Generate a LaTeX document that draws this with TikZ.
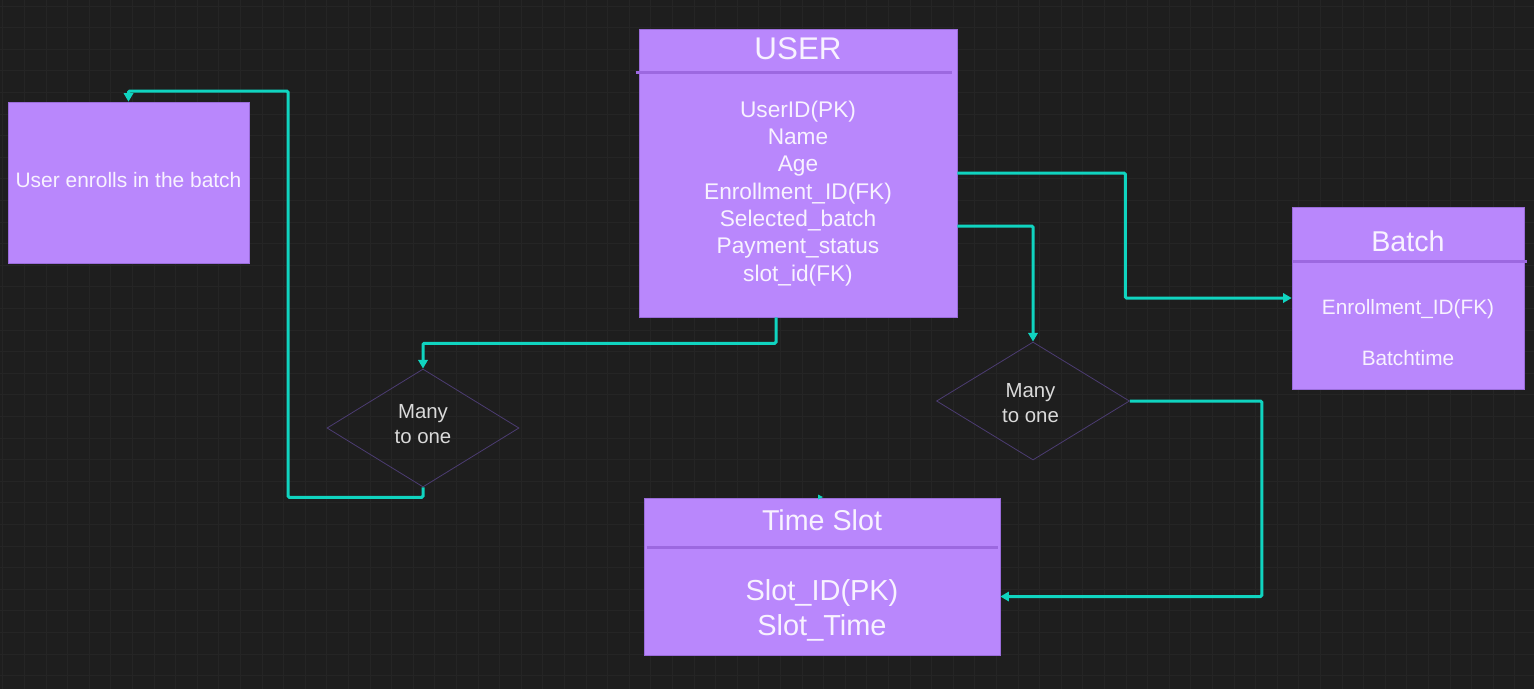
\documentclass[tikz,border=0pt]{standalone}
\usepackage{fontspec}
\setmainfont{Liberation Sans}
\usetikzlibrary{arrows.meta,shapes.geometric}
\definecolor{bgc}{HTML}{1E1E1E}
\definecolor{gridc}{HTML}{252525}
\definecolor{boxfill}{HTML}{B987FC}
\definecolor{boxedge}{HTML}{9A6CDA}
\definecolor{divc}{HTML}{9C68E0}
\definecolor{boxtext}{HTML}{F8F2FF}
\definecolor{diamedge}{HTML}{4C3C72}
\definecolor{diamtext}{HTML}{DADADA}
\definecolor{linkc}{HTML}{10D4C0}
\tikzset{
  ent/.style={rectangle, fill=boxfill, draw=boxedge, line width=0.4pt, inner sep=0pt},
  btxt/.style={text=boxtext, inner sep=0pt, anchor=base},
  rel/.style={diamond, draw=diamedge, line width=0.6pt, inner sep=0pt},
  dtxt/.style={text=diamtext, inner sep=0pt, anchor=base, font=\fontsize{15.3}{18}\selectfont},
  divider/.style={draw=divc, line width=2.25pt},
  conn/.style={draw=linkc, line width=2.25pt, rounded corners=1pt,
    -{Triangle[length=6.5pt,width=7pt]}},
  gridline/.style={draw=gridc, line width=0.6pt}
}
\begin{document}
\begin{tikzpicture}[x=0.75pt,y=-0.75pt]
% background and grid
\fill[bgc] (0,0) rectangle (1534,689);
\useasboundingbox (0,0) rectangle (1534,689);
\foreach \gx in {0,...,70} {\draw[gridline] ({2.7+21.6*\gx},0) -- ({2.7+21.6*\gx},689);}
\foreach \gy in {0,...,31} {\draw[gridline] (0,{6+21.6*\gy}) -- (1534,{6+21.6*\gy});}

% entity boxes
\node[ent, minimum width=238.5pt, minimum height=216pt] (user) at (798,173) {};
\node[ent, minimum width=180.75pt, minimum height=120.75pt] (enroll) at (128.5,182.5) {};
\node[ent, minimum width=174pt, minimum height=136.5pt] (batch) at (1408,298) {};
\node[ent, minimum width=267pt, minimum height=117.75pt] (ts) at (822,576.5) {};

% relationship diamonds
\node[rel, minimum width=144pt, minimum height=88.5pt] (d1) at (423,428) {};
\node[rel, minimum width=144.75pt, minimum height=88.5pt] (d2) at (1033,401) {};

% dividers
\draw[divider] ([xshift=-2.25pt,yshift=-33pt]user.north west) -- ([xshift=-3.75pt,yshift=-33pt]user.north east);
\draw[divider] ([yshift=-41.25pt]batch.north west) -- ([xshift=2.25pt,yshift=-41.25pt]batch.north east);
\draw[divider] ([xshift=2.25pt,yshift=-37.5pt]ts.north west) -- ([xshift=-1.5pt,yshift=-37.5pt]ts.north east);

% USER texts
\node[btxt, font=\fontsize{23.5}{28}\selectfont] (ut) at (798,59) {USER};
\foreach \i/\t/\yy in {1/UserID(PK)/117, 2/Name/144.3, 3/Age/171.6, 4/Enrollment\_ID(FK)/199, 5/Selected\_batch/226.3, 6/Payment\_status/253.6, 7/slot\_id(FK)/281}
  {\node[btxt, font=\fontsize{17}{20}\selectfont] (uf\i) at (798,\yy) {\t};}

% enroll text
\node[btxt, font=\fontsize{15.7}{19}\selectfont] (et) at (128.5,187) {User enrolls in the batch};

% Batch texts
\node[btxt, font=\fontsize{21.5}{26}\selectfont] (bt) at (1408,251) {Batch};
\node[btxt, font=\fontsize{15.6}{19}\selectfont] (bf1) at (1408,314) {Enrollment\_ID(FK)};
\node[btxt, font=\fontsize{15.6}{19}\selectfont] (bf2) at (1408,365) {Batchtime};

% Time Slot texts
\node[btxt, font=\fontsize{21.5}{26}\selectfont] (tt) at (822,530) {Time Slot};
\node[btxt, font=\fontsize{21.7}{26}\selectfont] (tf1) at (822,600) {Slot\_ID(PK)};
\node[btxt, font=\fontsize{21.7}{26}\selectfont] (tf2) at (822,635) {Slot\_Time};

% diamond texts
\node[dtxt] (d1a) at (423,418) {Many};
\node[dtxt] (d1b) at (423,443) {to one};
\node[dtxt] (d2a) at (1030.5,397) {Many};
\node[dtxt] (d2b) at (1030.5,422) {to one};

% connectors
\coordinate (c1) at (288,91);
\draw[conn] ([xshift=-16.5pt]user.south) -- ++(0,26) -| (d1.north);
\draw[conn] (d1.south) -- ++(0,10) -| (c1) -| (enroll.north);
\draw[conn] (user.east) -- ++(168,0) |- (batch.west);
\draw[conn] ([yshift=-39.75pt]user.east) -| (d2.north);
\draw[conn] (d2.east) -- ++(132,0) |- ([yshift=-15pt]ts.east);

% small stray arrow tip above Time Slot
\fill[linkc] (818,494.5) -- (823,497) -- (818,499.5) -- cycle;
\end{tikzpicture}
\end{document}
